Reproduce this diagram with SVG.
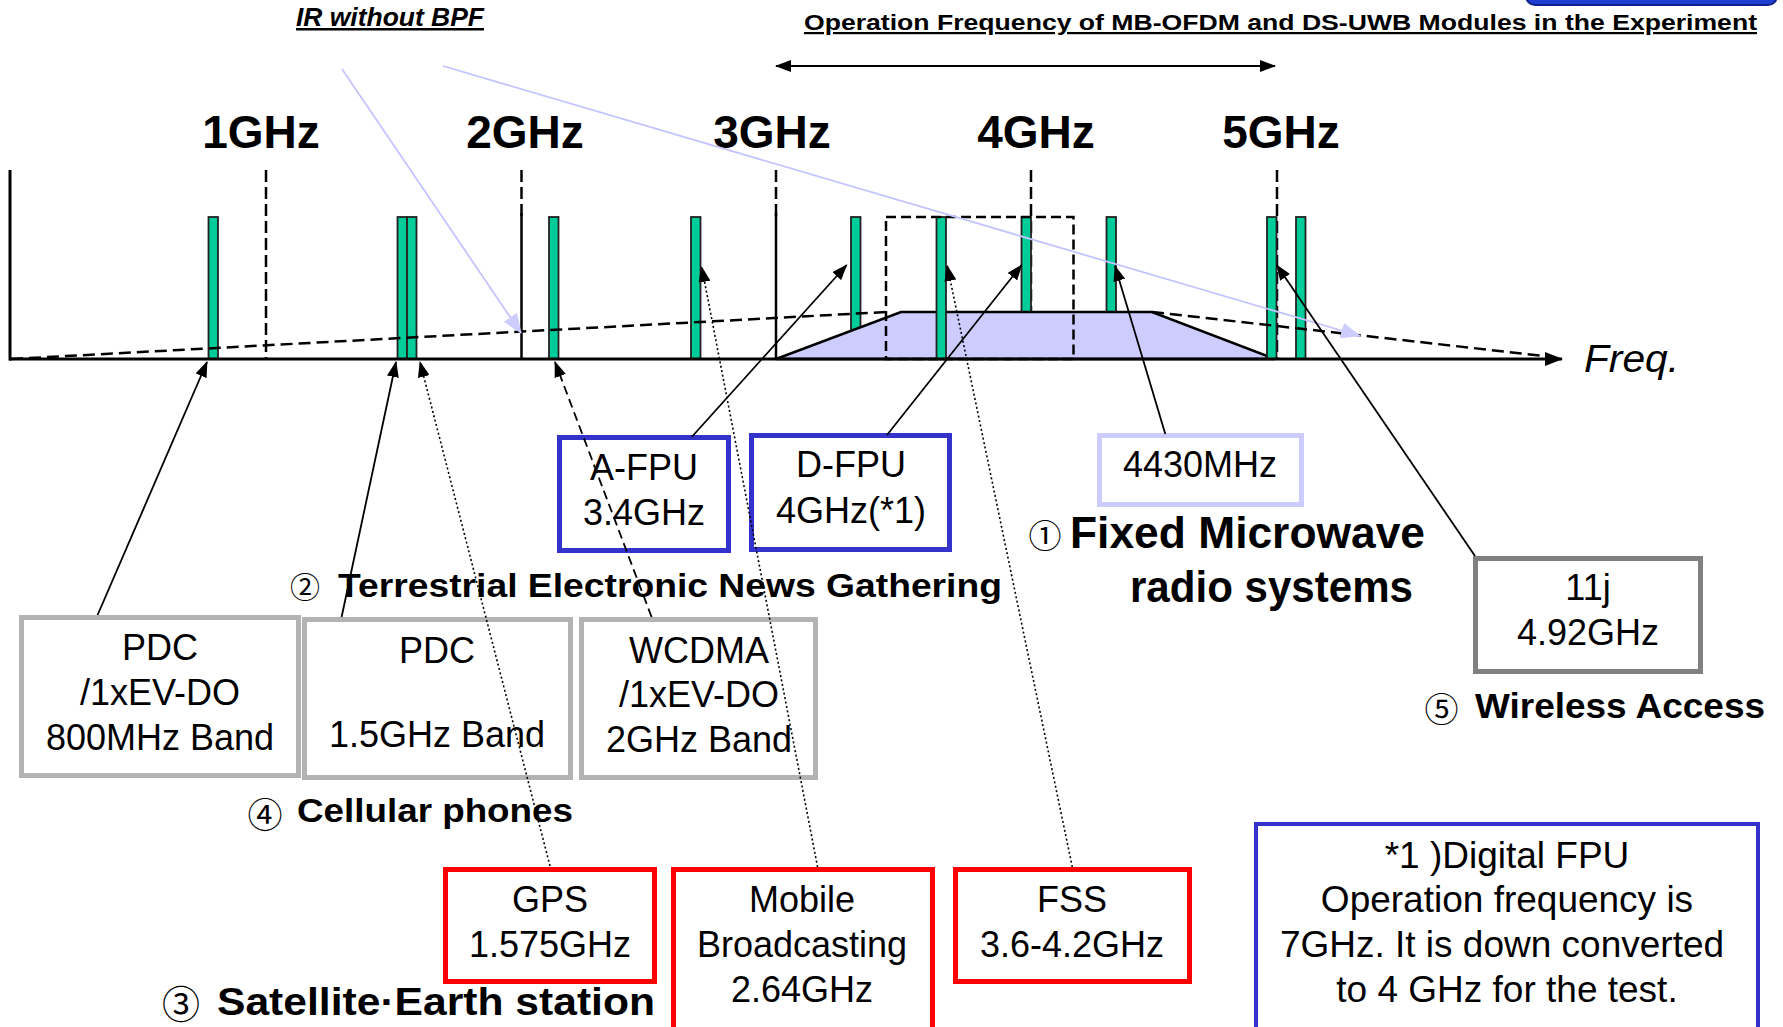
<svg xmlns="http://www.w3.org/2000/svg" width="1783" height="1027" viewBox="0 0 1783 1027">
<style>
text{font-family:"Liberation Sans",Arial,sans-serif;fill:#000}
.bx{font-size:36px;text-anchor:middle}
.b{font-weight:bold}
.ghz{font-size:46px;font-weight:bold;text-anchor:middle}
.circ{font-family:"Noto Sans CJK JP","Noto Sans CJK SC",sans-serif;font-weight:normal;text-anchor:middle;dominant-baseline:central}
.bar{fill:#00cc99;stroke:#222;stroke-width:1.8}
.grid{stroke:#000;stroke-width:2.5;stroke-dasharray:12 5;fill:none}
.solid{stroke:#000;stroke-width:2.5}
.conn{stroke:#000;stroke-width:1.8;fill:none}
.dot{stroke-dasharray:2 2.5;stroke-width:1.6}
.dash{stroke-dasharray:9 5}
.node rect{fill:#fff;stroke-width:5}
</style>
<defs>
<marker id="ah" viewBox="0 0 16 12" refX="15" refY="6" markerWidth="16" markerHeight="12" markerUnits="userSpaceOnUse" orient="auto-start-reverse"><path d="M0,0 L16,6 L0,12 z" fill="#000"/></marker>
<marker id="ahx" viewBox="0 0 18 14" refX="17" refY="7" markerWidth="18" markerHeight="14" markerUnits="userSpaceOnUse" orient="auto-start-reverse"><path d="M0,0 L18,7 L0,14 z" fill="#000"/></marker>
<marker id="ahl" viewBox="0 0 20 16" refX="19" refY="8" markerWidth="20" markerHeight="16" markerUnits="userSpaceOnUse" orient="auto"><path d="M0,0 L20,8 L0,16 z" fill="#ccccff"/></marker>
</defs>
<rect width="1783" height="1027" fill="#fff"/>

<!-- top right partial element -->
<rect x="1526" y="-30" width="251" height="35" rx="9" fill="#1f3fd0" stroke="#10208a" stroke-width="2"/>

<!-- titles -->
<text x="804" y="30" font-size="22" class="b" textLength="953" lengthAdjust="spacingAndGlyphs" text-decoration="underline">Operation Frequency of MB-OFDM and DS-UWB Modules in the Experiment</text>
<text x="296" y="26" font-size="25" class="b" font-style="italic" textLength="188" lengthAdjust="spacingAndGlyphs" text-decoration="underline">IR without BPF</text>

<!-- frequency labels -->
<text class="ghz" x="261" y="148">1GHz</text>
<text class="ghz" x="525" y="148">2GHz</text>
<text class="ghz" x="772" y="148">3GHz</text>
<text class="ghz" x="1036" y="148">4GHz</text>
<text class="ghz" x="1281" y="148">5GHz</text>
<text x="1584" y="372" font-size="38" font-style="italic" textLength="95" lengthAdjust="spacingAndGlyphs">Freq.</text>

<!-- chart -->
<g id="chart">
<line class="grid" x1="266" y1="170" x2="266" y2="359"/>
<line class="grid" x1="521.5" y1="170" x2="521.5" y2="217"/>
<line class="solid" x1="521.5" y1="213" x2="521.5" y2="359"/>
<line class="grid" x1="776" y1="170" x2="776" y2="217"/>
<line class="solid" x1="776" y1="213" x2="776" y2="359"/>
<line class="grid" x1="1031" y1="170" x2="1031" y2="359"/>
<line class="grid" x1="1277" y1="170" x2="1277" y2="359"/>
<rect class="bar" x="851" y="217" width="9.5" height="142"/>
<rect class="bar" x="1021.5" y="217" width="9.5" height="142"/>
<rect class="bar" x="1106.5" y="217" width="9.5" height="142"/>
<polygon points="776,359 901,312 1152,312 1275,359" fill="#ccccff" stroke="#000" stroke-width="2.5" stroke-linejoin="miter"/>
<rect class="bar" x="208.5" y="217" width="9.5" height="142"/>
<rect class="bar" x="397.5" y="217" width="9.5" height="142"/>
<rect class="bar" x="407" y="217" width="9.5" height="142"/>
<rect class="bar" x="549" y="217" width="9.5" height="142"/>
<rect class="bar" x="691" y="217" width="9.5" height="142"/>
<rect class="bar" x="936.5" y="217" width="9.5" height="142"/>
<rect class="bar" x="1267" y="217" width="9.5" height="142"/>
<rect class="bar" x="1296" y="217" width="9.5" height="142"/>
<rect x="886" y="217" width="187.5" height="142" fill="none" stroke="#000" stroke-width="2.5" stroke-dasharray="10 5"/>
<line x1="11" y1="359" x2="886" y2="312" stroke="#000" stroke-width="2.5" stroke-dasharray="12 6"/>
<line x1="1152" y1="312" x2="1553" y2="357" stroke="#000" stroke-width="2.5" stroke-dasharray="12 6"/>
<line x1="10" y1="170" x2="10" y2="360.5" stroke="#000" stroke-width="3"/>
<line x1="9" y1="359" x2="1562" y2="359" stroke="#000" stroke-width="3" marker-end="url(#ahx)"/>
<line x1="342" y1="69" x2="521" y2="333" stroke="#c4c4ff" stroke-width="1.8" marker-end="url(#ahl)"/>
<line x1="443" y1="66" x2="1360" y2="336" stroke="#c4c4ff" stroke-width="1.8" marker-end="url(#ahl)"/>
</g>

<!-- nodes -->
<g id="pdc800" class="node"><rect x="21.5" y="617.5" width="277" height="158" stroke="#b3b3b3"/>
<text class="bx" x="160" y="660">PDC</text><text class="bx" x="160" y="705">/1xEV-DO</text><text class="bx" x="160" y="750">800MHz Band</text></g>
<g id="pdc15" class="node"><rect x="304.5" y="619.5" width="266" height="158" stroke="#b3b3b3"/>
<text class="bx" x="437" y="663">PDC</text><text class="bx" x="437" y="747">1.5GHz Band</text></g>
<g id="wcdma" class="node"><rect x="581.5" y="619.5" width="234" height="158" stroke="#b3b3b3"/>
<text class="bx" x="699" y="663">WCDMA</text><text class="bx" x="699" y="707">/1xEV-DO</text><text class="bx" x="699" y="752">2GHz Band</text></g>
<g id="afpu" class="node"><rect x="559.5" y="437.5" width="169" height="113" stroke="#3333cc"/>
<text class="bx" x="644" y="480">A-FPU</text><text class="bx" x="644" y="525">3.4GHz</text></g>
<g id="dfpu" class="node"><rect x="751.5" y="435.5" width="198" height="114" stroke="#3333cc"/>
<text class="bx" x="851" y="477">D-FPU</text><text class="bx" x="851" y="523">4GHz(*1)</text></g>
<g id="f4430" class="node"><rect x="1099.5" y="435.5" width="202" height="69" stroke="#ccccff"/>
<text class="bx" x="1200" y="477">4430MHz</text></g>
<g id="w11j" class="node"><rect x="1475.5" y="558.5" width="225" height="113" stroke="#808080"/>
<text class="bx" x="1588" y="600">11j</text><text class="bx" x="1588" y="645">4.92GHz</text></g>
<g id="gps" class="node"><rect x="445.5" y="869.5" width="209" height="112" stroke="#ff0000"/>
<text class="bx" x="550" y="912">GPS</text><text class="bx" x="550" y="957">1.575GHz</text></g>
<g id="mobile" class="node"><rect x="673.5" y="869.5" width="259" height="180" stroke="#ff0000"/>
<text class="bx" x="802" y="912">Mobile</text><text class="bx" x="802" y="957">Broadcasting</text><text class="bx" x="802" y="1002">2.64GHz</text></g>
<g id="fss" class="node"><rect x="955.5" y="869.5" width="234" height="112" stroke="#ff0000"/>
<text class="bx" x="1072" y="912">FSS</text><text class="bx" x="1072" y="957">3.6-4.2GHz</text></g>
<g id="note" class="node"><rect x="1256" y="824" width="502" height="220" stroke="#3333cc" style="stroke-width:4"/>
<text class="bx" x="1507" y="868" style="font-size:37px">*1 )Digital FPU</text><text class="bx" x="1507" y="912" style="font-size:37px">Operation frequency is</text><text class="bx" x="1502" y="957" style="font-size:37px">7GHz. It is down converted</text><text class="bx" x="1507" y="1002" style="font-size:37px">to 4 GHz for the test.</text></g>

<!-- category labels -->
<g id="labels">
<text class="circ" x="305" y="585" font-size="30">②</text>
<text x="338" y="597" font-size="34" class="b" textLength="664" lengthAdjust="spacingAndGlyphs">Terrestrial Electronic News Gathering</text>
<text class="circ" x="1045" y="534" font-size="33">①</text>
<text x="1070" y="548" font-size="44" class="b" textLength="355" lengthAdjust="spacingAndGlyphs">Fixed Microwave</text>
<text x="1130" y="602" font-size="44" class="b" textLength="283" lengthAdjust="spacingAndGlyphs">radio systems</text>
<text class="circ" x="1441.5" y="707" font-size="34">⑤</text>
<text x="1475" y="718" font-size="35" class="b" textLength="290" lengthAdjust="spacingAndGlyphs">Wireless Access</text>
<text class="circ" x="265" y="812" font-size="35">④</text>
<text x="297" y="822" font-size="33" class="b" textLength="276" lengthAdjust="spacingAndGlyphs">Cellular phones</text>
<text class="circ" x="181" y="1001" font-size="38">③</text>
<text x="217" y="1015" font-size="38" class="b" textLength="438" lengthAdjust="spacingAndGlyphs">Satellite·Earth station</text>
</g>

<!-- connectors -->
<g id="connectors">
<line class="conn" x1="776" y1="66" x2="1275" y2="66" stroke-width="3" marker-start="url(#ah)" marker-end="url(#ah)"/>
<line class="conn" x1="97.6" y1="615" x2="207" y2="362" marker-end="url(#ah)"/>
<line class="conn" x1="341.6" y1="617" x2="396" y2="362" marker-end="url(#ah)"/>
<line class="conn dot" x1="550" y1="866" x2="420" y2="362" marker-end="url(#ah)"/>
<line class="conn dash" x1="651.6" y1="617" x2="555" y2="362" marker-end="url(#ah)"/>
<line class="conn dot" x1="817.6" y1="867" x2="701.7" y2="267" marker-end="url(#ah)"/>
<line class="conn" x1="691.7" y1="437" x2="846.7" y2="265" marker-end="url(#ah)"/>
<line class="conn" x1="887" y1="435" x2="1021.7" y2="265" marker-end="url(#ah)"/>
<line class="conn dot" x1="1072.3" y1="867" x2="947.3" y2="266" marker-end="url(#ah)"/>
<line class="conn" x1="1165.3" y1="434" x2="1115" y2="266" marker-end="url(#ah)"/>
<line class="conn" x1="1475" y1="556" x2="1276.7" y2="265" marker-end="url(#ah)"/>
</g>
</svg>
